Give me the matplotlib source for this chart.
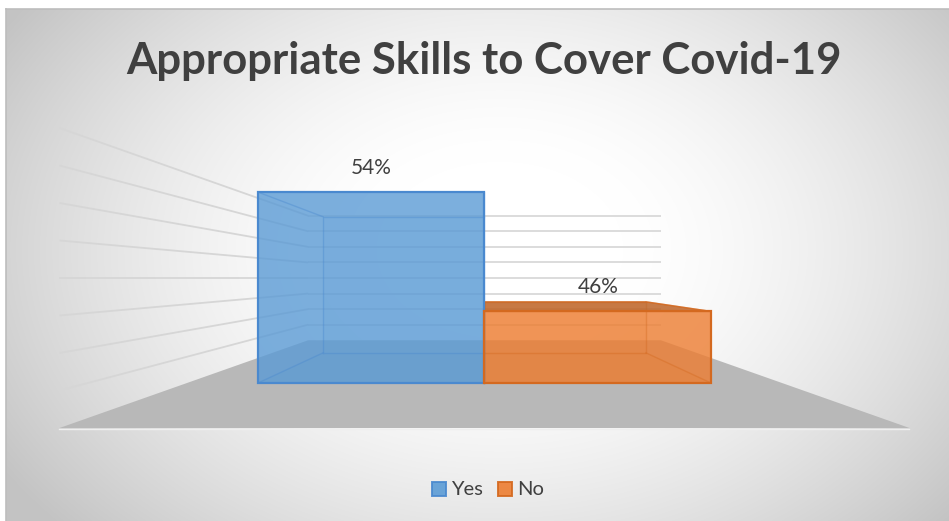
import numpy as np
import matplotlib
matplotlib.use("Agg")
import matplotlib.pyplot as plt
from matplotlib.patches import Polygon, Rectangle
from matplotlib.colors import to_rgb

# ---- data -------------------------------------------------------------
categories = ["Yes", "No"]
values = [0.54, 0.46]
value_labels = ["54%", "46%"]
colors = ["#5b9bd5", "#ed7d31"]
edge_colors = ["#4a89cf", "#d4691f"]
title = "Appropriate Skills to Cover Covid-19"

# value axis of the 3-D plot (floor value, gridline step, number of steps)
v_floor = 0.412
v_step = 0.0176
n_steps = 8

# ---- 3-D view (pixel space, one-point perspective) ---------------------
W, H = 949, 521
VP = (484.5, 278.0)      # vanishing point
FLOOR_DROP = 150.0       # floor front edge below the eye at scale 1
STEP_PX = 37.5           # gridline spacing at scale 1
HALF_W = 425.0           # half width of floor / back wall at scale 1
S_FRONT, S_BACK = 1.0, 0.415        # floor front / back wall depth scale
BAR_FRONT, BAR_BACK = 0.70, 0.499   # bar front / back depth scale
CAT_W = 323.6            # width of one category slot at scale 1

FONT = ["Lato", "DejaVu Sans"]
TXT = "#404040"


def proj(X, h, s):
    return VP[0] + X * s, VP[1] + (FLOOR_DROP - h) * s


def v2h(v):
    return (v - v_floor) / v_step * STEP_PX


fig = plt.figure(figsize=(W / 100, H / 100), dpi=100)
fig.patch.set_facecolor("white")
ax = fig.add_axes([0, 0, 1, 1])
ax.set_xlim(0, W)
ax.set_ylim(H, 0)
ax.axis("off")

# ---- radial gradient chart background ---------------------------------
x0c, y0c = 6, 9
gx, gy = np.meshgrid(np.arange(x0c, W) + 0.5, np.arange(y0c, H) + 0.5)
r = np.sqrt(((gx - 500) / 560) ** 2 + ((gy - 250) / 400) ** 2)
t = np.clip((r - 0.22) / 0.83, 0, 1) ** 1.5
g = (255 - 60 * t) / 255.0
img = np.dstack([g, g, g])
ax.imshow(img, extent=[x0c, W, H, y0c], aspect="auto", zorder=0,
          interpolation="bilinear")
ax.plot([x0c, W], [y0c, y0c], color="#bdbdbd", lw=1.2, zorder=1)
ax.plot([x0c, x0c], [y0c, H], color="#bdbdbd", lw=1.2, zorder=1)

# ---- floor --------------------------------------------------------------
floor = [proj(-HALF_W, 0, S_FRONT), proj(HALF_W, 0, S_FRONT),
         proj(HALF_W, 0, S_BACK), proj(-HALF_W, 0, S_BACK)]
ax.add_patch(Polygon(floor, closed=True, fc="#b8b8b8", ec="none", zorder=2))
fx0, fy0 = proj(-HALF_W, 0, S_FRONT)
fx1, _ = proj(HALF_W, 0, S_FRONT)
ax.plot([fx0, fx1], [fy0 + 1.2, fy0 + 1.2], color="#efefef", lw=1.0, zorder=2)

# ---- gridlines on back wall and left side wall ---------------------------
for k in range(1, n_steps + 1):
    h = k * STEP_PX
    a = proj(-HALF_W, h, S_BACK)
    b = proj(HALF_W, h, S_BACK)
    ax.plot([a[0], b[0]], [a[1], b[1]], color="#d9d9d9", lw=1.3, zorder=3,
            solid_capstyle="butt")
    c = proj(-HALF_W, h, S_FRONT)
    ax.plot([c[0], a[0]], [c[1], a[1]], color="#d6d6d6", lw=1.3, zorder=3,
            solid_capstyle="butt")

# ---- bars -----------------------------------------------------------------
def shade(col, f):
    rgb = np.array(to_rgb(col))
    return tuple(rgb * f)


for i, (v, col, ecol, lab) in enumerate(zip(values, colors, edge_colors,
                                            value_labels)):
    xa = -CAT_W + i * CAT_W
    xb = xa + CAT_W
    h = v2h(v)
    F = [proj(xa, 0, BAR_FRONT), proj(xb, 0, BAR_FRONT),
         proj(xb, h, BAR_FRONT), proj(xa, h, BAR_FRONT)]
    B = [proj(xa, 0, BAR_BACK), proj(xb, 0, BAR_BACK),
         proj(xb, h, BAR_BACK), proj(xa, h, BAR_BACK)]

    # back face seen through the translucent front
    ax.add_patch(Polygon(B, closed=True, fc=col, alpha=0.10, ec="none",
                         zorder=4))
    # bottom face, slightly darker
    bottom = [F[0], F[1], B[1], B[0]]
    ax.add_patch(Polygon(bottom, closed=True, fc=shade(col, 0.8), alpha=0.15,
                         ec="none", zorder=4))

    # top face, visible only when it lies below eye level
    top = [F[3], F[2], B[2], B[3]]
    if F[3][1] > VP[1]:
        ax.add_patch(Polygon(top, closed=True, fc=shade(col, 0.80),
                             alpha=0.85, ec=ecol, lw=1.0, zorder=6))

    # front face
    ax.add_patch(Polygon(F, closed=True, fc=col, alpha=0.80, ec="none",
                         zorder=5))

    # hidden edges drawn faintly
    for p, q in zip(F, B):
        ax.plot([p[0], q[0]], [p[1], q[1]], color=ecol, lw=1.0, alpha=0.4,
                zorder=5.5)
    bx = [pt[0] for pt in B] + [B[0][0]]
    by = [pt[1] for pt in B] + [B[0][1]]
    ax.plot(bx, by, color=ecol, lw=1.0, alpha=0.4, zorder=5.5)

    # front outline
    ax.add_patch(Polygon(F, closed=True, fc="none", ec=ecol, lw=1.6,
                         zorder=6.5))

    # value label
    lx, ly = proj((xa + xb) / 2, h, BAR_FRONT)
    ax.text(lx, ly - 24, lab, ha="center", va="center", fontsize=15,
            color=TXT, family=FONT, zorder=7)

# ---- title ---------------------------------------------------------------
ax.text(484, 61, title, ha="center", va="center", fontsize=31.5,
        fontweight="bold", color=TXT, family=FONT, zorder=7)

# ---- legend --------------------------------------------------------------
leg_x = [432, 498]
for lx, cat, col, ecol in zip(leg_x, categories, colors, edge_colors):
    ax.add_patch(Rectangle((lx, 482), 14, 14, fc=col, ec=ecol, lw=1.4,
                           alpha=0.9, zorder=7))
    ax.text(lx + 19, 489.5, cat, ha="left", va="center", fontsize=14.5,
            color=TXT, family=FONT, zorder=7)

fig.savefig("out.png", dpi=100, facecolor="white")
